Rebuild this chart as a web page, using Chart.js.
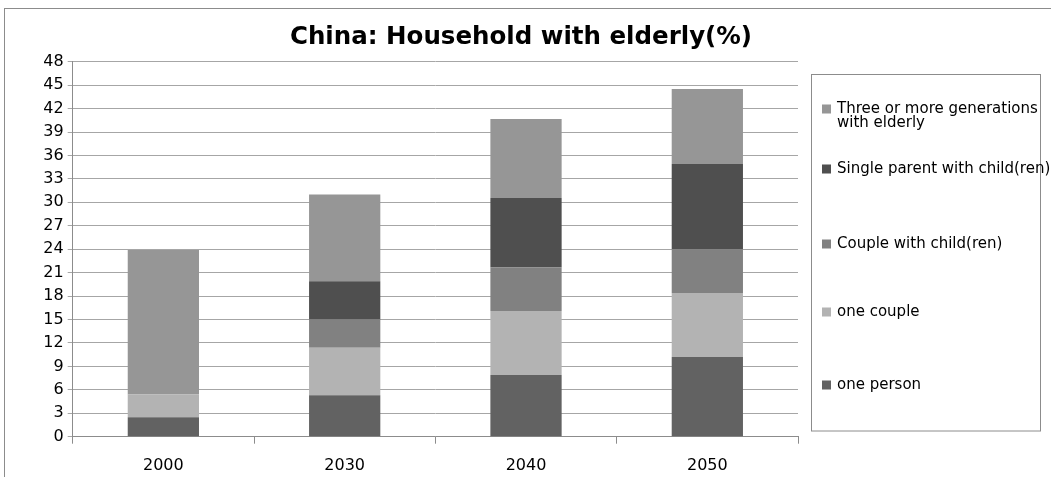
<!DOCTYPE html>
<html>
<head>
<meta charset="utf-8">
<script src="https://cdn.jsdelivr.net/npm/chart.js@4.4.1/dist/chart.umd.min.js"></script>
<style>
  html, body { margin: 0; padding: 0; background: #fff; overflow: hidden; }
  #frame { position: absolute; left: 4px; top: 8px; width: 1100px; height: 520px;
           border-top: 1px solid #8c8c8c; border-left: 1px solid #8c8c8c; }
  #wrap { position: absolute; left: 0; top: 0; width: 1051px; height: 477px; }
</style>
</head>
<body>
<div id="frame"></div>
<div id="wrap"><canvas id="c" width="1051" height="477"></canvas></div>
<script>
// Years on the category axis
const years = ['2000', '2030', '2040', '2050'];

// Share of households with elderly members, by household type (%)
const onePerson        = [2.5, 5.3, 7.9, 10.2];
const oneCouple        = [2.9, 6.1, 8.2, 8.2];
const coupleWithChild  = [0, 3.6, 5.6, 5.6];
const singleParent     = [0, 4.9, 8.85, 10.9];
const threeGenerations = [18.5, 11.1, 10.1, 9.6];

// Value axis ticks
const yTicks = [0, 3, 6, 9, 12, 15, 18, 21, 24, 27, 30, 33, 36, 39, 42, 45, 48];

const titleText = 'China: Household with elderly(%)';

const datasets = [
  { label: 'one person', data: onePerson, backgroundColor: '#626262' },
  { label: 'one couple', data: oneCouple, backgroundColor: '#b3b3b3' },
  { label: 'Couple with child(ren)', data: coupleWithChild, backgroundColor: '#818181' },
  { label: 'Single parent with child(ren)', data: singleParent, backgroundColor: '#4f4f4f' },
  { label: ['Three or more generations', 'with elderly'], data: threeGenerations, backgroundColor: '#969696' }
].map(d => Object.assign(d, { barPercentage: 0.393, categoryPercentage: 1, borderWidth: 0 }));

// Title and boxed legend drawn on the canvas
const decorations = {
  id: 'decorations',
  afterDraw(chart) {
    const ctx = chart.ctx;
    ctx.save();
    ctx.fillStyle = '#000';
    ctx.font = 'bold 24.5px "DejaVu Sans"';
    ctx.textAlign = 'center';
    ctx.textBaseline = 'middle';
    ctx.fillText(titleText, 521, 38);

    // legend box
    const bx = 811.5, by = 74.5, bw = 229, bh = 356.5;
    ctx.strokeStyle = '#8c8c8c';
    ctx.lineWidth = 1;
    ctx.strokeRect(bx, by, bw, bh);

    const rowY = [385, 312, 244, 169, 109];
    ctx.font = '15px "DejaVu Sans"';
    ctx.textAlign = 'left';
    chart.data.datasets.forEach((ds, i) => {
      const y = rowY[i];
      ctx.fillStyle = ds.backgroundColor;
      ctx.fillRect(822, y - 4.5, 9, 9);
      ctx.fillStyle = '#000';
      const lines = Array.isArray(ds.label) ? ds.label : [ds.label];
      lines.forEach((t, k) => ctx.fillText(t, 837, y + k * 14));
    });
    ctx.restore();
  }
};

new Chart(document.getElementById('c'), {
  type: 'bar',
  data: { labels: years, datasets },
  options: {
    responsive: false,
    animation: false,
    layout: { padding: { top: 61.7, right: 253, left: 0, bottom: 0 } },
    plugins: { legend: { display: false }, title: { display: false }, tooltip: { enabled: false } },
    scales: {
      x: {
        stacked: true,
        offset: true,
        afterFit: s => { s.height = 40.3; },
        grid: { offset: true, drawOnChartArea: false, drawTicks: true, tickLength: 7, color: '#8c8c8c' },
        border: { display: true, color: '#8c8c8c' },
        ticks: { color: '#000', font: { family: 'DejaVu Sans', size: 16 }, padding: 13 }
      },
      y: {
        stacked: true,
        min: 0,
        max: 48,
        afterFit: s => { s.width = 72.7; },
        afterBuildTicks: s => { s.ticks = yTicks.map(v => ({ value: v })); },
        grid: { color: '#a6a6a6', tickLength: 5 },
        border: { display: true, color: '#8c8c8c' },
        ticks: { color: '#000', font: { family: 'DejaVu Sans', size: 16 }, padding: 4 }
      }
    }
  },
  plugins: [decorations]
});
</script>
</body>
</html>
